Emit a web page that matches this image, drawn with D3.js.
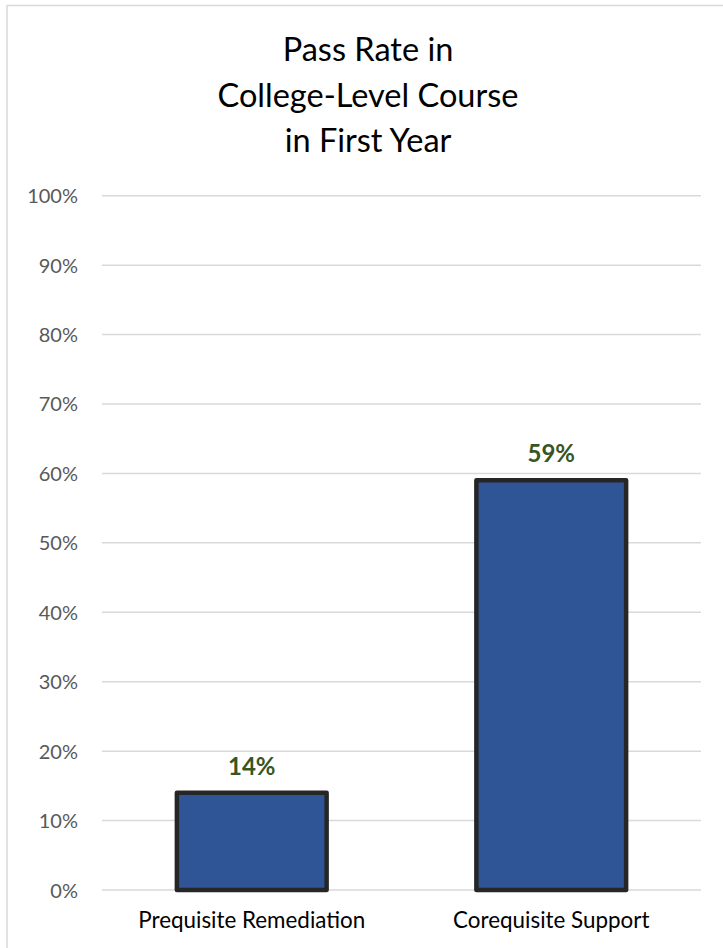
<!DOCTYPE html>
<html>
<head>
<meta charset="utf-8">
<script src="https://cdn.jsdelivr.net/npm/d3@7"></script>
<style>
  html, body { margin: 0; padding: 0; background: #fff; }
  svg { display: block; }
</style>
</head>
<body>
<svg id="chart" width="723" height="948"></svg>
<script>
const titleLines = ["Pass Rate in", "College-Level Course", "in First Year"];
const categories = ["Prequisite Remediation", "Corequisite Support"];
const values = [0.14, 0.59];
const yTicks = [0, 0.1, 0.2, 0.3, 0.4, 0.5, 0.6, 0.7, 0.8, 0.9, 1.0];

const FONT = "Lato, 'Open Sans', sans-serif";
const svg = d3.select("#chart");

// chart area border (left + top as in reference)
svg.append("path")
  .attr("d", "M7,948 L7,5.5 L723,5.5")
  .attr("fill", "none")
  .attr("stroke", "#d9d9d9")
  .attr("stroke-width", 1.5);

const plot = { left: 102, right: 701, top: 195.7, bottom: 890 };

const x = d3.scaleBand()
  .domain(categories)
  .range([plot.left, plot.right])
  .paddingInner(0.5)
  .paddingOuter(0.25);

const y = d3.scaleLinear()
  .domain([0, 1])
  .range([plot.bottom, plot.top]);

// title
svg.append("text")
  .attr("x", 368)
  .attr("text-anchor", "middle")
  .attr("font-family", FONT)
  .attr("font-size", 32.5)
  .attr("fill", "#000")
  .selectAll("tspan")
  .data(titleLines)
  .join("tspan")
  .attr("x", 368)
  .attr("y", (d, i) => 61 + i * 45.5)
  .text(d => d);

// gridlines
svg.append("g")
  .selectAll("line")
  .data(yTicks)
  .join("line")
  .attr("x1", plot.left)
  .attr("x2", plot.right)
  .attr("y1", d => y(d))
  .attr("y2", d => y(d))
  .attr("stroke", "#d9d9d9")
  .attr("stroke-width", 1.5);

// y axis labels
const yAxis = d3.axisLeft(y)
  .tickValues(yTicks)
  .tickFormat(d3.format(".0%"))
  .tickSize(0)
  .tickPadding(0);

const yg = svg.append("g")
  .attr("transform", `translate(78,0)`)
  .call(yAxis);
yg.select(".domain").remove();
yg.selectAll("text")
  .attr("font-family", FONT)
  .attr("font-size", 20)
  .attr("fill", "#595959")
  .attr("dy", "0.35em");

// bars
svg.append("g")
  .selectAll("rect")
  .data(values)
  .join("rect")
  .attr("x", (d, i) => x(categories[i]))
  .attr("width", x.bandwidth())
  .attr("y", d => y(d))
  .attr("height", d => y(0) - y(d))
  .attr("fill", "#2f5597")
  .attr("stroke", "#262626")
  .attr("stroke-width", 4.5)
  .attr("stroke-linejoin", "round");

// value labels
svg.append("g")
  .selectAll("text")
  .data(values)
  .join("text")
  .attr("x", (d, i) => x(categories[i]) + x.bandwidth() / 2)
  .attr("y", d => y(d) - 18)
  .attr("text-anchor", "middle")
  .attr("font-family", FONT)
  .attr("font-weight", "bold")
  .attr("font-size", 24)
  .attr("fill", "#375623")
  .text(d => d3.format(".0%")(d));

// x axis labels
const xAxis = d3.axisBottom(x).tickSize(0).tickPadding(0);
const xg = svg.append("g")
  .attr("transform", `translate(0,928)`)
  .call(xAxis);
xg.select(".domain").remove();
xg.selectAll("text")
  .attr("font-family", FONT)
  .attr("font-size", 22.4)
  .attr("fill", "#000")
  .attr("dy", 0);
</script>
</body>
</html>
